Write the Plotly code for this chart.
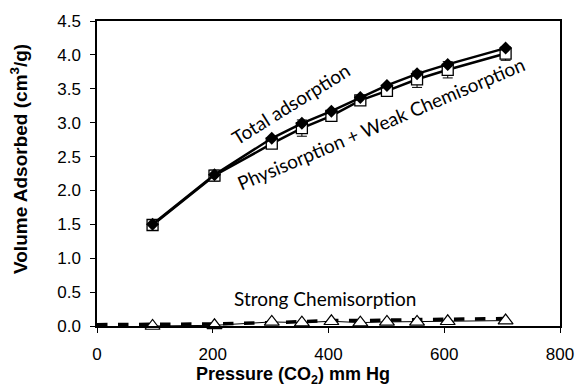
import plotly.graph_objects as go

pressure = [96, 203, 302, 354, 405, 455, 501, 553, 606, 706]
total_ads = [1.50, 2.23, 2.77, 2.99, 3.17, 3.37, 3.55, 3.72, 3.86, 4.10]
physi_weak = [1.49, 2.22, 2.69, 2.92, 3.10, 3.33, 3.47, 3.64, 3.78, 4.02]
physi_err = [0.02, 0.08, 0.05, 0.12, 0.05, 0.06, 0.05, 0.12, 0.12, 0.10]
strong_chem = [0.0, 0.01, 0.06, 0.05, 0.07, 0.05, 0.06, 0.06, 0.07, 0.08]
trend_x = [0, 96, 203, 302, 354, 405, 455, 501, 553, 606, 706]
trend_y = [0.02, 0.02, 0.03, 0.05, 0.07, 0.08, 0.08, 0.09, 0.09, 0.10, 0.11]

W, H = 577, 388
L, R, T, B = 97, 17, 21, 62

fig = go.Figure()
fig.add_trace(go.Scatter(x=trend_x, y=trend_y, mode="lines",
                         line=dict(color="black", width=3.5, dash="dash"),
                         showlegend=False, cliponaxis=False))
fig.add_trace(go.Scatter(x=pressure, y=strong_chem, mode="lines+markers",
                         line=dict(color="black", width=1),
                         marker=dict(symbol="triangle-up", size=13, color="white",
                                     line=dict(color="black", width=1.2)),
                         showlegend=False, cliponaxis=False))
fig.add_trace(go.Scatter(x=pressure, y=physi_weak, mode="lines+markers",
                         line=dict(color="black", width=2.5),
                         error_y=dict(type="data", array=physi_err, color="black",
                                      thickness=1, width=5),
                         marker=dict(symbol="square", size=11, color="white",
                                     line=dict(color="black", width=1.3)),
                         showlegend=False))
fig.add_trace(go.Scatter(x=pressure, y=total_ads, mode="lines+markers",
                         line=dict(color="black", width=2.5),
                         marker=dict(symbol="diamond", size=10, color="black"),
                         showlegend=False))

text_font = dict(family="Lato, Noto Sans, sans-serif", size=19, color="black")
fig.add_annotation(x=335, y=3.29, text="Total adsorption", showarrow=False,
                   textangle=-32, font=text_font)
fig.add_annotation(x=490, y=2.99, text="Physisorption + Weak Chemisorption",
                   showarrow=False, textangle=-23, font=text_font)
fig.add_annotation(x=394, y=0.41, text="Strong Chemisorption", showarrow=False,
                   font=text_font)

# axis titles placed as in the reference
fig.add_annotation(xref="paper", yref="paper", xanchor="center", yanchor="middle",
                   x=(293 - L) / (W - L - R), y=(H - B - 375) / (H - T - B),
                   text="<b>Pressure (CO<sub>2</sub>) mm Hg</b>", showarrow=False,
                   font=dict(family="Liberation Sans, Arial, sans-serif", size=18,
                             color="black"))
fig.add_annotation(xref="paper", yref="paper", xanchor="center", yanchor="middle",
                   x=(19 - L) / (W - L - R), y=(H - B - 159) / (H - T - B),
                   text="<b>Volume Adsorbed (cm<sup>3</sup>/g)</b>", showarrow=False,
                   textangle=-90,
                   font=dict(family="Liberation Sans, Arial, sans-serif", size=19,
                             color="black"))

axis_font = dict(family="Liberation Sans, Arial, sans-serif", size=17, color="black")
fig.update_layout(
    width=W, height=H,
    margin=dict(l=L, r=R, t=T, b=B, autoexpand=False),
    paper_bgcolor="white", plot_bgcolor="white",
    font=axis_font,
    xaxis=dict(range=[0, 800], tickvals=[0, 200, 400, 600, 800],
               ticks="outside", ticklen=5, tickwidth=1.2, tickcolor="black",
               ticklabelstandoff=7,
               showline=True, linecolor="black", linewidth=1.5, mirror=True,
               showgrid=False, zeroline=False, automargin=False),
    yaxis=dict(range=[0, 4.5], tickvals=[0, 0.5, 1, 1.5, 2, 2.5, 3, 3.5, 4, 4.5],
               tickformat=".1f",
               ticks="outside", ticklen=5, tickwidth=1.2, tickcolor="black",
               ticklabelstandoff=6,
               showline=True, linecolor="black", linewidth=1.5, mirror=True,
               showgrid=False, zeroline=False, automargin=False),
)
fig.write_html("out.html")
